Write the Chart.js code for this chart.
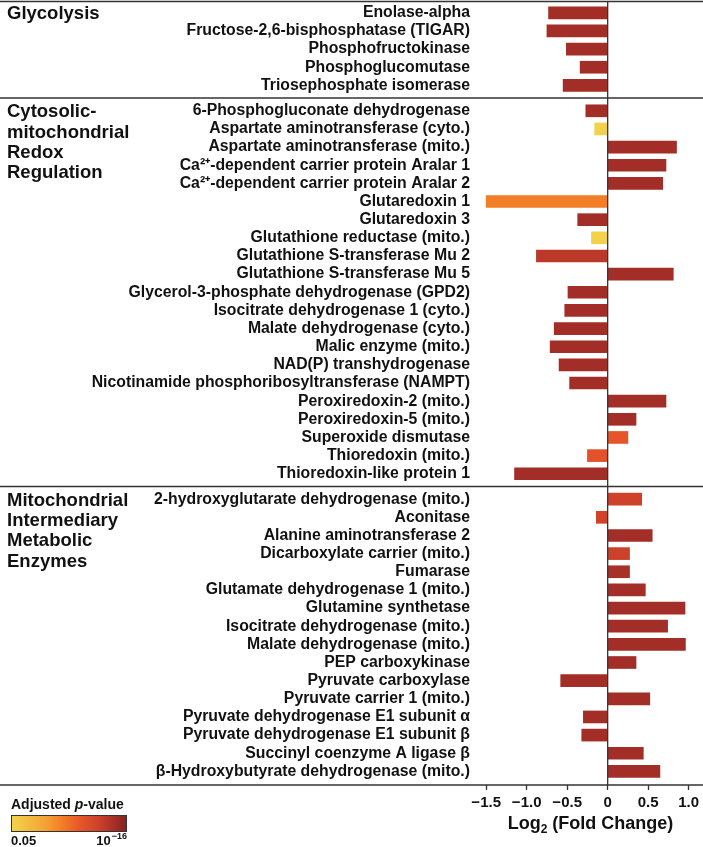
<!DOCTYPE html>
<html>
<head>
<meta charset="utf-8">
<script src="https://cdn.jsdelivr.net/npm/chart.js@4/dist/chart.umd.min.js"></script>
<style>
  html, body { margin: 0; padding: 0; background: #fff; }
  canvas { display: block; }
</style>
</head>
<body>
<canvas id="foldChart" width="703" height="847"></canvas>
<script>
// group titles (drawn at the left, one line per entry)
var groupTitles = [
    ['Glycolysis'],
    ['Cytosolic-', 'mitochondrial', 'Redox', 'Regulation'],
    ['Mitochondrial', 'Intermediary', 'Metabolic', 'Enzymes']
];

var glycolysisLabels = ['Enolase-alpha', 'Fructose-2,6-bisphosphatase (TIGAR)', 'Phosphofructokinase',
    'Phosphoglucomutase', 'Triosephosphate isomerase'];
var glycolysisValues = [-0.73, -0.75, -0.51, -0.34, -0.55];
// position on the adjusted p-value colour bar: 0 = 0.05, 1 = 10^-16
var glycolysisLevels = [0.9, 0.9, 0.9, 0.9, 0.9];

var redoxLabels = ['6-Phosphogluconate dehydrogenase', 'Aspartate aminotransferase (cyto.)',
    'Aspartate aminotransferase (mito.)', 'Ca²⁺-dependent carrier protein Aralar 1',
    'Ca²⁺-dependent carrier protein Aralar 2', 'Glutaredoxin 1', 'Glutaredoxin 3',
    'Glutathione reductase (mito.)', 'Glutathione S-transferase Mu 2', 'Glutathione S-transferase Mu 5',
    'Glycerol-3-phosphate dehydrogenase (GPD2)', 'Isocitrate dehydrogenase 1 (cyto.)',
    'Malate dehydrogenase (cyto.)', 'Malic enzyme (mito.)', 'NAD(P) transhydrogenase',
    'Nicotinamide phosphoribosyltransferase (NAMPT)', 'Peroxiredoxin-2 (mito.)', 'Peroxiredoxin-5 (mito.)',
    'Superoxide dismutase', 'Thioredoxin (mito.)', 'Thioredoxin-like protein 1'];
var redoxValues = [-0.27, -0.16, 0.85, 0.72, 0.68, -1.5, -0.37, -0.2, -0.88, 0.81,
    -0.49, -0.53, -0.66, -0.71, -0.6, -0.47, 0.72, 0.35, 0.25, -0.25, -1.15];
var redoxLevels = [0.9, 0.02, 0.9, 0.9, 0.9, 0.44, 0.9, 0.02, 0.82, 0.9,
    0.9, 0.9, 0.9, 0.9, 0.9, 0.9, 0.9, 0.9, 0.6, 0.62, 0.9];

var mitoLabels = ['2-hydroxyglutarate dehydrogenase (mito.)', 'Aconitase', 'Alanine aminotransferase 2',
    'Dicarboxylate carrier (mito.)', 'Fumarase', 'Glutamate dehydrogenase 1 (mito.)', 'Glutamine synthetase',
    'Isocitrate dehydrogenase (mito.)', 'Malate dehydrogenase (mito.)', 'PEP carboxykinase',
    'Pyruvate carboxylase', 'Pyruvate carrier 1 (mito.)', 'Pyruvate dehydrogenase E1 subunit α',
    'Pyruvate dehydrogenase E1 subunit β', 'Succinyl coenzyme A ligase β',
    'β-Hydroxybutyrate dehydrogenase (mito.)'];
var mitoValues = [0.42, -0.14, 0.55, 0.27, 0.27, 0.465, 0.955, 0.74, 0.96, 0.35,
    -0.58, 0.52, -0.3, -0.32, 0.44, 0.645];
var mitoLevels = [0.75, 0.74, 0.9, 0.76, 0.88, 0.9, 0.9, 0.9, 0.9, 0.9,
    0.9, 0.9, 0.9, 0.9, 0.9, 0.9];

var xTickValues = [-1.5, -1, -0.5, 0, 0.5, 1];
var xTickLabels = ['−1.5', '−1.0', '−0.5', '0', '0.5', '1.0'];

var colorStops = [
    [0, '#f1d54c'], [0.3, '#f4a234'], [0.45, '#f27b25'], [0.6, '#e6552a'],
    [0.75, '#cf4229'], [0.9, '#a22e27'], [1, '#84201e']
];

var FONT = '"Liberation Sans", Arial, Helvetica, sans-serif';
var GROUP_GAP = 0.4;

function hexToRgb(h) {
    return [parseInt(h.substr(1, 2), 16), parseInt(h.substr(3, 2), 16), parseInt(h.substr(5, 2), 16)];
}

function levelColor(level) {
    for (var i = 1; i < colorStops.length; i++) {
        if (level <= colorStops[i][0]) {
            var a = colorStops[i - 1], b = colorStops[i];
            var t = (level - a[0]) / (b[0] - a[0]);
            var ca = hexToRgb(a[1]), cb = hexToRgb(b[1]);
            var c = ca.map(function (v, k) { return Math.round(v + (cb[k] - v) * t); });
            return 'rgb(' + c.join(',') + ')';
        }
    }
    return colorStops[colorStops.length - 1][1];
}

var groups = [
    { labels: glycolysisLabels, values: glycolysisValues, levels: glycolysisLevels },
    { labels: redoxLabels, values: redoxValues, levels: redoxLevels },
    { labels: mitoLabels, values: mitoValues, levels: mitoLevels }
];

var rowLabels = [], rowPositions = [], points = [], barColors = [], groupRanges = [];
var pos = 0;
groups.forEach(function (g, gi) {
    if (gi > 0) pos += GROUP_GAP;
    var first = pos;
    g.labels.forEach(function (lab, i) {
        rowLabels.push(lab);
        rowPositions.push(pos);
        points.push({ x: g.values[i], y: pos });
        barColors.push(levelColor(g.levels[i]));
        pos += 1;
    });
    groupRanges.push([first, pos - 1]);
});

var decorPlugin = {
    id: 'decor',
    afterDraw: function (chart) {
        var ctx = chart.ctx, area = chart.chartArea;
        var xs = chart.scales.x, ys = chart.scales.y;
        var W = chart.width;
        ctx.save();
        ctx.strokeStyle = '#333';
        ctx.lineWidth = 1.5;

        // full-width rules: top, between groups, bottom axis
        var rules = [area.top + 0.5, area.bottom];
        for (var i = 1; i < groupRanges.length; i++) {
            rules.push(ys.getPixelForValue((groupRanges[i - 1][1] + groupRanges[i][0]) / 2));
        }
        rules.forEach(function (y) {
            ctx.beginPath();
            ctx.moveTo(0, y);
            ctx.lineTo(W, y);
            ctx.stroke();
        });

        // zero line
        var x0 = xs.getPixelForValue(0);
        ctx.lineWidth = 1.3;
        ctx.beginPath();
        ctx.moveTo(x0, area.top);
        ctx.lineTo(x0, area.bottom);
        ctx.stroke();

        // group titles
        ctx.fillStyle = '#111';
        ctx.font = 'bold 18.5px ' + FONT;
        ctx.textAlign = 'left';
        ctx.textBaseline = 'alphabetic';
        groupTitles.forEach(function (lines, gi) {
            var yTop = ys.getPixelForValue(groupRanges[gi][0]) + 6.6;
            lines.forEach(function (t, li) {
                ctx.fillText(t, 7, yTop + li * 20.3);
            });
        });

        // x axis title with subscript
        var cx = (area.left + area.right) / 2;
        var base = 829;
        ctx.font = 'bold 18px ' + FONT;
        var w1 = ctx.measureText('Log').width;
        var w3 = ctx.measureText(' (Fold Change)').width;
        ctx.font = 'bold 12px ' + FONT;
        var w2 = ctx.measureText('2').width;
        var sx = cx - (w1 + w2 + w3) / 2;
        ctx.font = 'bold 18px ' + FONT;
        ctx.fillText('Log', sx, base);
        ctx.font = 'bold 12px ' + FONT;
        ctx.fillText('2', sx + w1, base + 3.5);
        ctx.font = 'bold 18px ' + FONT;
        ctx.fillText(' (Fold Change)', sx + w1 + w2, base);

        // p-value colour bar
        var lx = 11, ly = 815, lw = 116, lh = 17;
        ctx.font = 'bold 14px ' + FONT;
        var ta = ctx.measureText('Adjusted ').width;
        ctx.fillText('Adjusted ', lx, 809);
        ctx.font = 'italic bold 14px ' + FONT;
        var tp = ctx.measureText('p').width;
        ctx.fillText('p', lx + ta, 809);
        ctx.font = 'bold 14px ' + FONT;
        ctx.fillText('-value', lx + ta + tp, 809);

        var grad = ctx.createLinearGradient(lx, 0, lx + lw, 0);
        colorStops.forEach(function (s) { grad.addColorStop(s[0], s[1]); });
        ctx.fillStyle = grad;
        ctx.fillRect(lx, ly, lw, lh);
        ctx.lineWidth = 1;
        ctx.strokeStyle = '#333';
        ctx.strokeRect(lx + 0.5, ly + 0.5, lw - 1, lh - 1);

        ctx.fillStyle = '#111';
        ctx.font = 'bold 13px ' + FONT;
        ctx.fillText('0.05', lx, 845);
        ctx.font = 'bold 9px ' + FONT;
        var we = ctx.measureText('−16').width;
        ctx.font = 'bold 13px ' + FONT;
        var wt = ctx.measureText('10').width;
        var ex = lx + lw - we;
        ctx.fillText('10', ex - wt - 1, 845);
        ctx.font = 'bold 9px ' + FONT;
        ctx.fillText('−16', ex, 839);
        ctx.restore();
    }
};

(function () {
    var ctx = document.getElementById('foldChart').getContext('2d');
    new Chart(ctx, {
        type: 'bar',
        data: {
            datasets: [{
                data: points,
                backgroundColor: barColors,
                borderWidth: 0,
                barThickness: 12
            }]
        },
        options: {
            indexAxis: 'y',
            responsive: false,
            animation: false,
            layout: { padding: { top: 1, left: 0, right: 0, bottom: 0 } },
            plugins: {
                legend: { display: false },
                tooltip: { enabled: false }
            },
            scales: {
                x: {
                    type: 'linear',
                    min: -1.601,
                    max: 1.177,
                    afterBuildTicks: function (scale) {
                        scale.ticks = xTickValues.map(function (v) { return { value: v }; });
                    },
                    afterFit: function (scale) {
                        scale.height = 62;
                        scale.paddingLeft = 0;
                        scale.paddingRight = 0;
                    },
                    ticks: {
                        autoSkip: false,
                        maxRotation: 0,
                        padding: 4,
                        color: '#111',
                        font: { family: FONT, size: 15, weight: 'bold' },
                        callback: function (value) {
                            return xTickLabels[xTickValues.indexOf(value)];
                        }
                    },
                    grid: { drawOnChartArea: false, tickLength: 5, tickColor: '#333', tickWidth: 1.3 },
                    border: { display: false }
                },
                y: {
                    type: 'linear',
                    reverse: true,
                    offset: false,
                    min: rowPositions[0] - 0.65,
                    max: rowPositions[rowPositions.length - 1] + 0.75,
                    afterBuildTicks: function (scale) {
                        scale.ticks = rowPositions.map(function (p) { return { value: p }; });
                    },
                    afterFit: function (scale) {
                        scale.width = 478;
                        scale.paddingTop = 0;
                        scale.paddingBottom = 0;
                    },
                    ticks: {
                        autoSkip: false,
                        padding: 8,
                        color: '#111',
                        font: { family: FONT, size: 15.8, weight: 'bold' },
                        callback: function (value, index) { return rowLabels[index]; }
                    },
                    grid: { display: false, drawTicks: false, offset: false },
                    border: { display: false }
                }
            }
        },
        plugins: [decorPlugin]
    });
})();
</script>
</body>
</html>
